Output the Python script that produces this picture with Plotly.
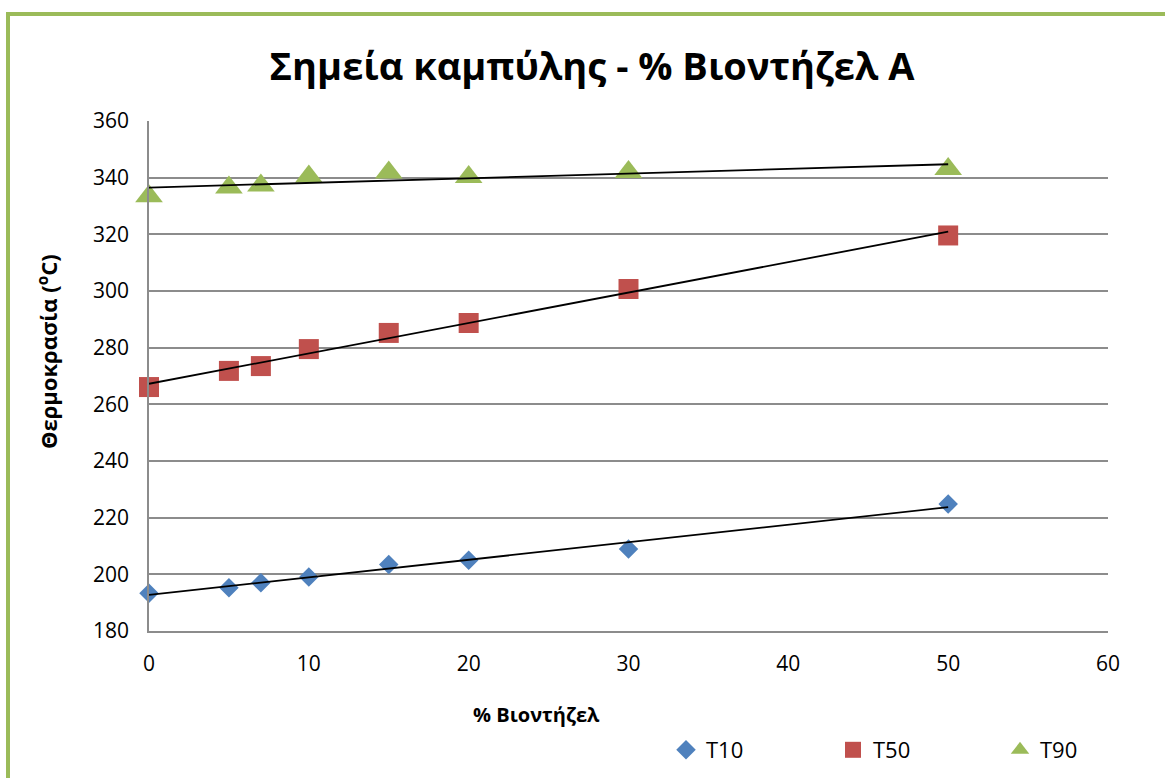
import numpy as np
import plotly.graph_objects as go

# Biodiesel content (%) and distillation temperatures (°C)
biodiesel = [0, 5, 7, 10, 15, 20, 30, 50]
t10 = [193.3, 195.3, 197.0, 199.1, 203.5, 205.0, 208.9, 224.8]
t50 = [266.1, 271.8, 273.5, 279.5, 285.2, 288.7, 300.7, 319.6]
t90 = [333.4, 336.5, 337.2, 340.4, 341.8, 340.2, 342.0, 343.1]

series_names = ["T10", "T50", "T90"]
series_values = [t10, t50, t90]
series_colors = ["#4F81BD", "#C0504D", "#9BBB59"]
series_symbols = ["diamond", "square", "triangle-up"]
series_sizes = [15, 20, 24]

W, H = 1165, 778
L, R, T, B = 149, 57, 121, 147
PW, PH = W - L - R, H - T - B


def px_x(p):
    return (p - L) / PW


def px_y(p):
    return (H - B - p) / PH


FONT = "Open Sans"
fig = go.Figure()

for name, vals, col, sym, sz in zip(series_names, series_values, series_colors,
                                    series_symbols, series_sizes):
    fig.add_trace(go.Scatter(
        x=biodiesel, y=vals, mode="markers", name=name, cliponaxis=False,
        marker=dict(symbol=sym, size=sz, color=col, line=dict(width=0)),
    ))

# Linear trend lines fitted to each series
for vals in series_values:
    slope, intercept = np.polyfit(biodiesel, vals, 1)
    xs = [min(biodiesel), max(biodiesel)]
    fig.add_trace(go.Scatter(
        x=xs, y=[slope * v + intercept for v in xs], mode="lines", cliponaxis=False,
        line=dict(color="black", width=1.8), showlegend=False, hoverinfo="skip",
    ))

grid_col = "#8C8C8C"
fig.update_xaxes(
    range=[0, 60], dtick=10, showgrid=False, zeroline=False,
    showline=True, linecolor=grid_col, linewidth=1.5,
    ticks="", ticklabelstandoff=13,
    tickfont=dict(family=FONT, size=21, color="black"),
)
fig.update_yaxes(
    range=[180, 360], dtick=20, showgrid=True, gridcolor=grid_col, gridwidth=1.5,
    zeroline=False, showline=True, linecolor=grid_col, linewidth=1.5,
    ticks="", ticklabelstandoff=14,
    tickfont=dict(family=FONT, size=21, color="black"),
)

fig.update_layout(
    width=W, height=H,
    margin=dict(l=L, r=R, t=T, b=B, autoexpand=False),
    paper_bgcolor="white", plot_bgcolor="white",
    title=dict(
        text="<b>Σημεία καμπύλης - % Βιοντήζελ Α</b>",
        x=592 / W, y=1 - 67 / H, xanchor="center", yanchor="middle",
        font=dict(family=FONT, size=38, color="black"),
    ),
    legend=dict(
        orientation="h", x=px_x(666), y=px_y(750), xanchor="left", yanchor="middle",
        entrywidth=122, entrywidthmode="pixels",
        font=dict(family=FONT, size=22, color="black"),
        bgcolor="rgba(0,0,0,0)", itemwidth=30,
    ),
    annotations=[
        dict(text="<b>% Βιοντήζελ</b>", x=px_x(536), y=px_y(714), xref="paper", yref="paper",
             showarrow=False, xanchor="center", yanchor="middle",
             font=dict(family=FONT, size=20, color="black")),
        dict(text="<b>Θερμοκρασία (<sup>o</sup>C)</b>", x=px_x(47), y=px_y(352),
             xref="paper", yref="paper", showarrow=False, textangle=-90,
             xanchor="center", yanchor="middle",
             font=dict(family=FONT, size=22, color="black")),
    ],
    shapes=[
        dict(type="rect", xref="paper", yref="paper",
             x0=px_x(8), x1=px_x(1190), y0=px_y(14), y1=px_y(800),
             line=dict(color="#9BBB59", width=4), fillcolor="rgba(0,0,0,0)", layer="below"),
    ],
)

fig.write_html("out.html")
